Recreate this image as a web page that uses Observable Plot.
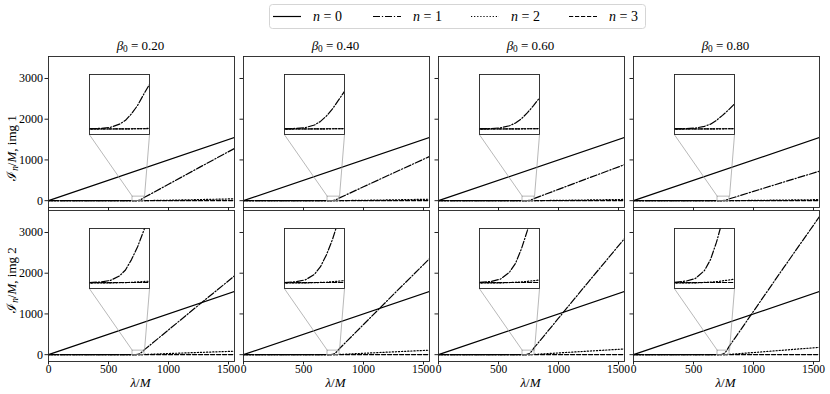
<!DOCTYPE html>
<html><head>
<meta charset="utf-8">
<script src="https://cdn.jsdelivr.net/npm/d3@7"></script>
<script src="https://cdn.jsdelivr.net/npm/@observablehq/plot@0.6"></script>
<style>
body{margin:0;background:#fff}
#fig{position:relative;width:830px;height:394px;overflow:hidden;font-family:'Liberation Serif',serif;color:#000}
#fig svg text{font-family:'Liberation Serif',serif}
.lab{position:absolute;white-space:nowrap;font-size:13px;line-height:1}
.lab sub{font-size:0.72em;vertical-align:-0.25em}
</style></head>
<body><div id="fig"></div>
<script>
// ---------- data ----------
const betaLabels = ["0.20", "0.40", "0.60", "0.80"];
const imgLabels = ["1", "2"];
const xTicks = [0, 500, 1000, 1500];
const yTicks = [0, 1000, 2000, 3000];
const xDomain = [0, 1550];
const yDomain = [-168, 3540];
const insetLam = [700, 800];
const insetI = [-10, 100];

const lam0 = [0, 1550];
const n0 = [0, 1550];

const lam1 = [0, 700, 720, 735, 750, 760, 770, 780, 790, 800, 850, 1000, 1250, 1550];
const n1_img1 = [
  [0, 0.5, 1.4, 3.2, 8.9, 16, 28, 43, 63, 82, 161, 403, 805, 1282],
  [0, 0.4, 1.2, 2.7, 7.5, 14, 24, 37, 53, 69, 136, 340, 680, 1083],
  [0, 0.3, 1.0, 2.2, 6.1, 11, 19, 30, 43, 57, 111, 278, 555, 884],
  [0, 0.3, 0.8, 1.8, 5.0, 9, 16, 25, 35, 46, 91, 228, 455, 724]
];
const n1_img2 = [
  [0, 0.7, 2.2, 4.9, 13, 24, 43, 66, 95, 124, 243, 608, 1215, 1934],
  [0, 0.9, 2.7, 5.9, 16, 30, 52, 80, 115, 151, 296, 740, 1480, 2356],
  [0, 1.1, 3.2, 7.2, 20, 36, 63, 97, 140, 183, 358, 895, 1790, 2850],
  [0, 1.3, 3.8, 8.5, 23, 43, 75, 115, 166, 217, 426, 1065, 2130, 3391]
];

const lam2 = [0, 700, 740, 770, 800, 1000, 1550];
const n2_img1 = [
  [0, 0, 0.1, 0.4, 1.2, 10, 45],
  [0, 0, 0.1, 0.3, 1.0, 8, 35],
  [0, 0, 0.1, 0.3, 0.9, 7, 30],
  [0, 0, 0.1, 0.2, 0.8, 6, 25]
];
const n2_img2 = [
  [0, 0, 0.3, 1.2, 3.5, 28, 85],
  [0, 0, 0.3, 1.5, 4.5, 34, 110],
  [0, 0, 0.4, 2.0, 5.5, 42, 140],
  [0, 0, 0.5, 2.5, 7.0, 52, 180]
];

const lam3 = [0, 1550];
const n3_img1 = [[0, 1], [0, 1], [0, 1], [0, 1]];
const n3_img2 = [[0, 2], [0, 2], [0, 2], [0, 2]];

// ---------- layout ----------
const W = 186, H = 151;
const colX = [47.5, 242.5, 437.5, 632.5];
const rowY = [56, 210];
const inset = {left: 41, top: 18.3, size: 60};
const LW = 1.2;
const dashes = [null, "7,1.9,1.2,1.9", "1.2,1.9", "4.2,1.8"];
const FONT = "'Liberation Serif', serif";
const fig = document.getElementById("fig");

function seriesFor(row, col) {
  return [
    {x: lam0, y: n0, dash: dashes[0]},
    {x: lam1, y: (row === 0 ? n1_img1 : n1_img2)[col], dash: dashes[1]},
    {x: lam2, y: (row === 0 ? n2_img1 : n2_img2)[col], dash: dashes[2]},
    {x: lam3, y: (row === 0 ? n3_img1 : n3_img2)[col], dash: dashes[3]}
  ];
}
function lineMarks(series) {
  return series.map(s => Plot.line(s.y, {x: s.x, y: s.y, stroke: "black", strokeWidth: LW,
    strokeDasharray: s.dash, clip: true, curve: "linear"}));
}
function place(el, left, top) {
  el.style.position = "absolute";
  el.style.left = left + "px";
  el.style.top = top + "px";
  fig.append(el);
}

for (let row = 0; row < 2; row++) {
  for (let col = 0; col < 4; col++) {
    const series = seriesFor(row, col);
    const sx = d3.scaleLinear().domain(xDomain).range([0, W]);
    const sy = d3.scaleLinear().domain(yDomain).range([H, 0]);
    const cx1 = sx.invert(inset.left), cx2 = sx.invert(inset.left + inset.size);
    const cy = sy.invert(inset.top + inset.size);
    const main = Plot.plot({
      width: W, height: H, margin: 0,
      x: {domain: xDomain, axis: null},
      y: {domain: yDomain, axis: null},
      style: {background: "transparent", overflow: "visible", fontFamily: FONT, fontSize: "12px", color: "black"},
      marks: [
        ...lineMarks(series),
        Plot.rect([0], {x1: [insetLam[0]], x2: [insetLam[1]], y1: [insetI[0]], y2: [insetI[1]], fill: "none", stroke: "#999", strokeWidth: 0.7}),
        Plot.link([0, 1], {x1: [cx1, cx2], y1: [cy, cy], x2: [insetLam[0], insetLam[1]], y2: [insetI[1], insetI[1]], stroke: "#999", strokeWidth: 0.7}),
        Plot.frame({stroke: "#222", strokeWidth: 0.9}),
        Plot.axisX(xTicks, {anchor: "bottom", tickSize: 3.5, tickPadding: 0, label: null, stroke: "#222",
          tickFormat: row === 1 ? (d => String(d)) : (() => ""), fontSize: 11.5}),
        Plot.axisY(yTicks, {anchor: "left", tickSize: 3.5, tickPadding: 2, label: null, stroke: "#222",
          tickFormat: col === 0 ? (d => String(d)) : (() => ""), fontSize: 12})
      ]
    });
    place(main, colX[col], rowY[row]);

    const ins = Plot.plot({
      width: inset.size, height: inset.size, margin: 0,
      x: {domain: insetLam, axis: null},
      y: {domain: insetI, axis: null},
      style: {background: "white", overflow: "visible"},
      marks: [
        ...lineMarks(series),
        Plot.frame({stroke: "#222", strokeWidth: 0.9})
      ]
    });
    place(ins, colX[col] + inset.left, rowY[row] + inset.top);
  }
}

// titles and x labels
betaLabels.forEach((b, i) => {
  const d = document.createElement("div");
  d.className = "lab";
  d.innerHTML = `<i>β</i><sub>0</sub> = ${b}`;
  d.style.left = (colX[i] + W / 2) + "px";
  d.style.top = "47px";
  d.style.transform = "translate(-50%,-50%)";
  fig.append(d);
  const xl = document.createElement("div");
  xl.className = "lab";
  xl.innerHTML = `<i>λ</i>/<i>M</i>`;
  xl.style.left = (colX[i] + W / 2) + "px";
  xl.style.top = "382px";
  xl.style.transform = "translate(-50%,-50%)";
  fig.append(xl);
});
// y labels
imgLabels.forEach((m, r) => {
  const d = document.createElement("div");
  d.className = "lab";
  d.innerHTML = `ℐ<sub><i>n</i></sub>/<i>M</i>, img ${m}`;
  d.style.left = "13px";
  d.style.top = (r === 0 ? 148 : 280) + "px";
  d.style.transform = "translate(-50%,-50%) rotate(-90deg)";
  fig.append(d);
});

// legend
const legendNames = ["0", "1", "2", "3"];
const legend = d3.create("svg").attr("width", 377).attr("height", 25)
  .style("position", "absolute").style("left", "269px").style("top", "4px");
legend.append("rect").attr("x", 0.5).attr("y", 0.5).attr("width", 376).attr("height", 24).attr("rx", 3)
  .attr("fill", "white").attr("stroke", "#d5d5d5");
const lx = [4, 104, 202, 300];
legendNames.forEach((n, i) => {
  legend.append("line").attr("x1", lx[i]).attr("x2", lx[i] + 28).attr("y1", 12.5).attr("y2", 12.5)
    .attr("stroke", "black").attr("stroke-width", LW).attr("stroke-dasharray", dashes[i]);
  const t = legend.append("text").attr("x", lx[i] + 40).attr("y", 16.5)
    .attr("font-size", 14);
  t.append("tspan").attr("font-style", "italic").text("n");
  t.append("tspan").text(" = " + n);
});
fig.append(legend.node());
</script>
</body></html>
